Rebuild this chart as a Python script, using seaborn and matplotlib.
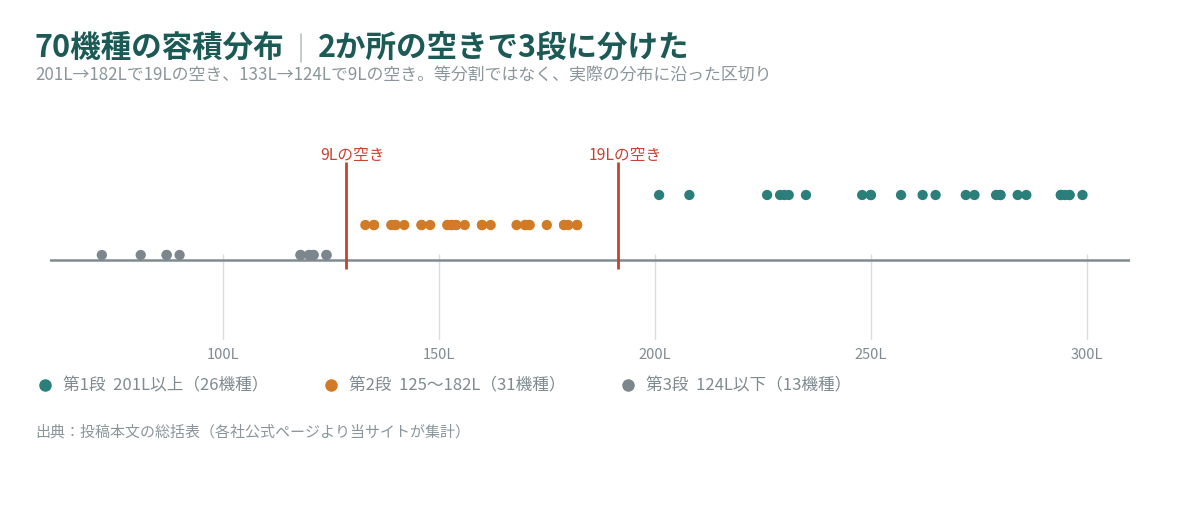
import matplotlib
matplotlib.use('Agg')
import matplotlib.pyplot as plt
from matplotlib.lines import Line2D
import numpy as np
import pandas as pd
import seaborn as sns

# volumes (L), one entry per model
tier1_vol = [201, 208, 226, 229, 230, 231, 235, 248, 250, 250, 257, 262, 265,
             272, 274, 279, 280, 280, 284, 286, 294, 294, 295, 296, 296, 299]
tier2_vol = [133, 135, 135, 139, 140, 140, 142, 146, 146, 148, 152, 152, 153,
             153, 154, 154, 156, 160, 160, 162, 168, 170, 170, 171, 171, 175,
             179, 179, 180, 182, 182]
tier3_vol = [72, 81, 87, 87, 90, 118, 118, 120, 120, 121, 121, 124, 124]

tier_names = ['第1段', '第2段', '第3段']
tier_labels = ['第1段  201L以上（26機種）', '第2段  125〜182L（31機種）', '第3段  124L以下（13機種）']
tick_vals = [100, 150, 200, 250, 300]
tick_labels = ['100L', '150L', '200L', '250L', '300L']

C_TEAL = '#2b7f7b'
C_ORANGE = '#d27b27'
C_GRAY = '#7b878d'
C_RED = '#c9412f'
C_TITLE = '#1c5a56'
C_SUB = '#8a969b'

sns.set_theme(style='white')
plt.rcParams['font.family'] = ['Noto Sans CJK JP', 'DejaVu Sans']

df = pd.DataFrame({
    'vol': tier1_vol + tier2_vol + tier3_vol,
    'tier': [tier_names[0]] * len(tier1_vol) + [tier_names[1]] * len(tier2_vol)
            + [tier_names[2]] * len(tier3_vol),
})

W, H = 1180, 520
fig = plt.figure(figsize=(W / 100, H / 100), dpi=100)
ax = fig.add_axes([50 / W, 1 - 340 / H, 1080 / W, 190 / H])

palette = dict(zip(tier_names, [C_TEAL, C_ORANGE, C_GRAY]))
sns.stripplot(data=df, x='vol', y='tier', hue='tier', order=tier_names,
              palette=palette, jitter=False, size=7.4, linewidth=0,
              legend=False, ax=ax, zorder=3)

ax.set_xlim(60, 310)
ax.set_ylim(4.833, -1.5)
for s in ax.spines.values():
    s.set_visible(False)
ax.set_yticks([])
ax.set_xlabel('')
ax.set_ylabel('')
ax.set_xticks(tick_vals)
ax.set_xticklabels(tick_labels)
ax.tick_params(axis='x', length=0, pad=6, labelsize=10.5, labelcolor='#7f8b90')

# baseline + light grid below it
ax.axhline(2.167, color='#7f8b90', lw=1.8, zorder=2)
ax.vlines(tick_vals, 1.967, 4.833, color='#dcdcdc', lw=1, zorder=1)

# gaps between tiers
gap_lo = (max(tier3_vol) + min(tier2_vol)) / 2
gap_hi = (max(tier2_vol) + min(tier1_vol)) / 2
gap_txt = ['%dLの空き' % (min(tier2_vol) - max(tier3_vol)),
           '%dLの空き' % (min(tier1_vol) - max(tier2_vol))]
ax.vlines([gap_lo, gap_hi], -1.1, 2.467, color=C_RED, lw=2, zorder=4)
for gx, gt in zip([gap_lo, gap_hi], gap_txt):
    ax.annotate(gt, (gx, -1.33), xytext=(7, 0), textcoords='offset pixels',
                ha='center', va='center', fontsize=11.3, color=C_RED)

# title
t1 = fig.text(35 / W, 1 - 48 / H, '70機種の容積分布', fontsize=22,
              weight='bold', color=C_TITLE, va='center')
fig.canvas.draw()
bb = t1.get_window_extent(fig.canvas.get_renderer())
fig.add_artist(Line2D([(bb.x1 + 16) / W] * 2, [1 - 62 / H, 1 - 34 / H],
                      color='#b9c3c6', lw=1.2))
fig.text((bb.x1 + 33) / W, 1 - 48 / H, '2か所の空きで3段に分けた', fontsize=22,
         weight='bold', color=C_TITLE, va='center')
fig.text(35 / W, 1 - 76 / H,
         '201L→182Lで19Lの空き、133L→124Lで9Lの空き。等分割ではなく、実際の分布に沿った区切り',
         fontsize=12.2, color=C_SUB, va='center')

# legend
handles = [Line2D([], [], marker='o', ls='', markersize=8, color=c)
           for c in [C_TEAL, C_ORANGE, C_GRAY]]
fig.legend(handles, tier_labels, loc='center left',
           bbox_to_anchor=(39 / W, 1 - 386 / H), ncol=3, frameon=False,
           fontsize=12, labelcolor='#7f8b90', handlelength=0.7,
           handletextpad=0.74, columnspacing=3.4, borderpad=0, borderaxespad=0)

fig.text(35 / W, 1 - 432 / H, '出典：投稿本文の総括表（各社公式ページより当サイトが集計）',
         fontsize=10.8, color=C_SUB, va='center')

fig.savefig('out.png', dpi=100)
